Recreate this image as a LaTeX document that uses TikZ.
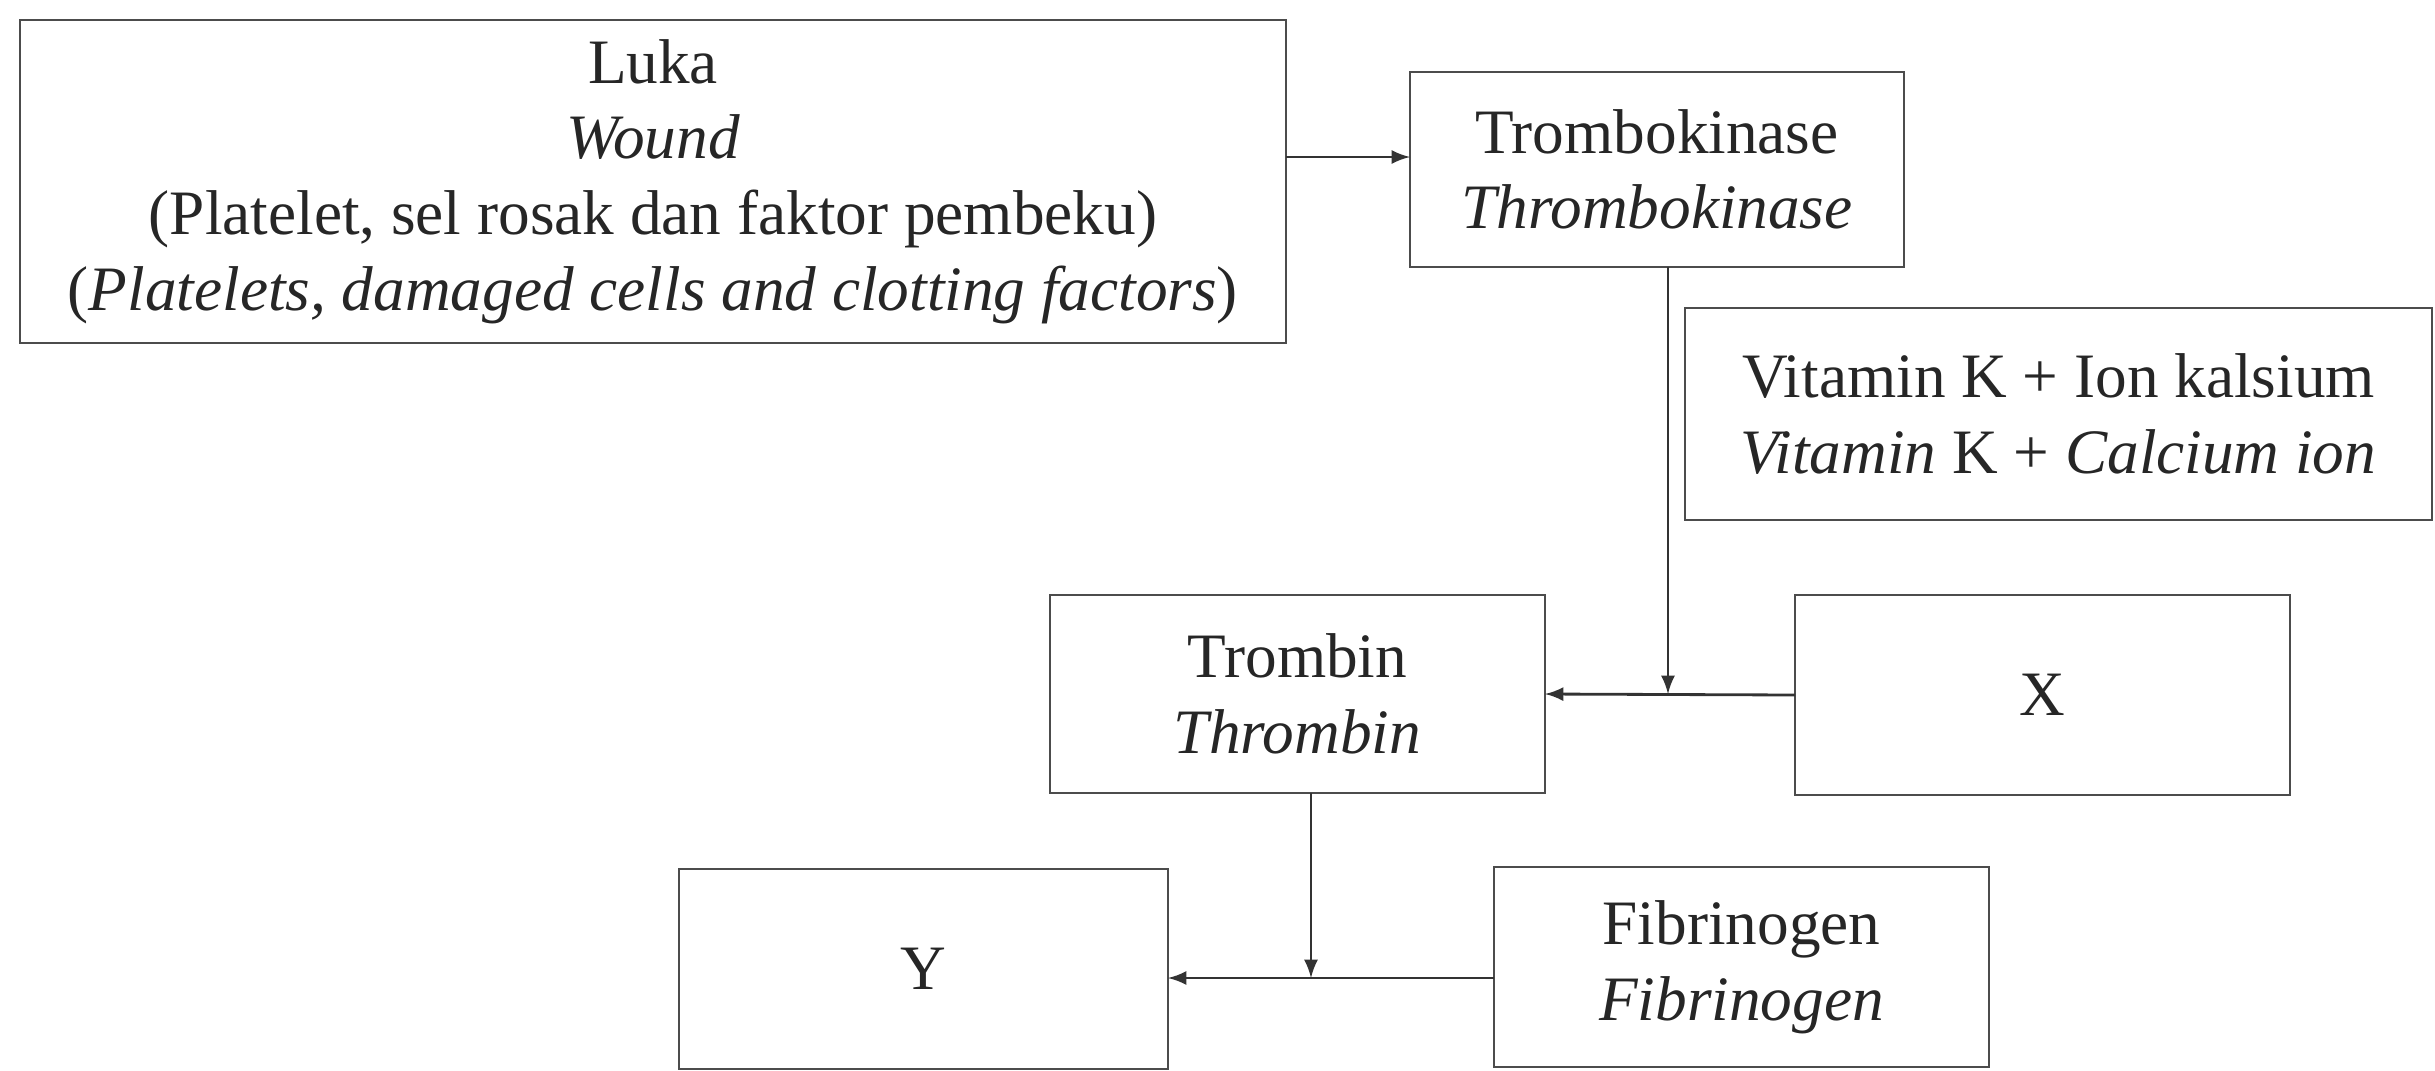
\documentclass[tikz,border=0pt]{standalone}
\usepackage{fontspec}
\setmainfont{Liberation Serif}
\usepackage{tikz}
\usetikzlibrary{shapes,arrows,positioning}

\begin{document}
\begin{tikzpicture}[x=1cm,y=-1cm,
  every node/.style={draw=black!70, line width=0.8pt, align=center, text=black!85, font=\fontsize{18}{21.5}\selectfont, inner sep=0pt, outer sep=0pt},
  arr/.style={-latex, line width=0.8pt, draw=black!80}]
\useasboundingbox (0,0) rectangle (24.35,10.7);
% Top row
\node[minimum width=12.66cm, minimum height=3.23cm] (luka) at (6.53,1.815)
  {Luka\\ \textit{Wound}\\ (Platelet, sel rosak dan faktor pembeku)\\ (\textit{Platelets, damaged cells and clotting factors})};
\node[minimum width=4.94cm, minimum height=1.95cm] (tk) at (16.57,1.695)
  {Trombokinase\\ \textit{Thrombokinase}};
\node[minimum width=7.47cm, minimum height=2.12cm] (vit) at (20.585,4.14)
  {Vitamin K + Ion kalsium\\ \textit{Vitamin} K + \textit{Calcium ion}};

% Middle row
\node[minimum width=4.95cm, minimum height=1.98cm] (trombin) at (12.975,6.94)
  {Trombin\\ \textit{Thrombin}};
\node[minimum width=4.95cm, minimum height=2.0cm] (x) at (20.425,6.95) {X};

% Bottom row
\node[minimum width=4.89cm, minimum height=2.0cm] (y) at (9.235,9.69) {Y};
\node[minimum width=4.95cm, minimum height=2.0cm] (fib) at (17.415,9.67)
  {Fibrinogen\\ \textit{Fibrinogen}};

% Joints on the lines
\coordinate (tkin) at ([yshift=1.25mm]tk.west);
\coordinate (j1) at (16.68,6.94);
\coordinate (j2) at (13.11,9.78);

% Arrows
\draw[arr] (luka.east |- tkin) -- (tkin);
\draw[arr] (tk.south -| j1) -- (j1);
\draw[arr] (x.west) -- (trombin.east);
\draw[arr] (trombin.south -| j2) -- (j2);
\draw[arr] (fib.west |- j2) -- (y.east |- j2);
\end{tikzpicture}
\end{document}
